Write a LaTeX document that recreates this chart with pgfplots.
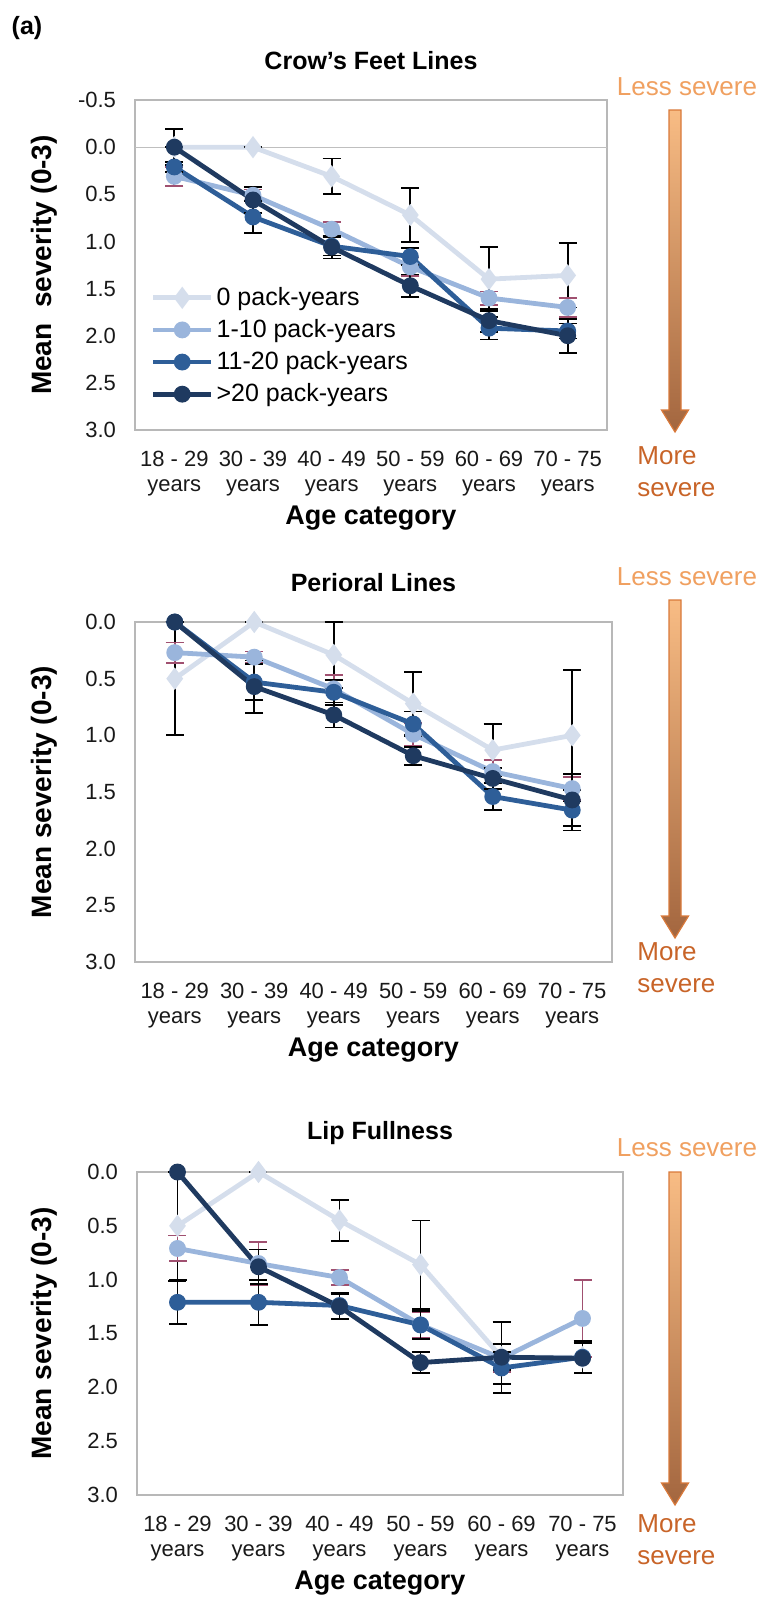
\documentclass[border=0pt]{standalone}
\usepackage{pgfplots}
\pgfplotsset{compat=1.18}
\usepackage{pgfplotstable}
\usepackage{fontspec}
\setmainfont{Liberation Sans}

\definecolor{cA}{HTML}{D5DEEC}
\definecolor{cB}{HTML}{9AB5DC}
\definecolor{cC}{HTML}{2E5E98}
\definecolor{cD}{HTML}{1F3A60}
\definecolor{errB}{HTML}{A05070}
\definecolor{lessor}{HTML}{F0A060}
\definecolor{moreor}{HTML}{C86428}
\definecolor{arrtop}{HTML}{F8BC84}
\definecolor{arrbot}{HTML}{A3663F}
\definecolor{arredge}{HTML}{D9793A}

% columns: age index, mean and error for 0 / 1-10 / 11-20 / >20 pack-years
\pgfplotstableread{
x  y0   e0   y1   e1   y2   e2   y3   e3
0  0.00 0.00 0.31 0.10 0.21 0.05 0.00 0.19
1  0.00 0.00 0.51 0.06 0.74 0.17 0.56 0.14
2  0.31 0.19 0.87 0.08 1.05 0.10 1.06 0.12
3  0.72 0.29 1.27 0.10 1.16 0.09 1.47 0.12
4  1.40 0.34 1.60 0.07 1.92 0.12 1.84 0.12
5  1.36 0.34 1.70 0.10 1.95 0.08 2.00 0.18
}\crowtab

\pgfplotstableread{
x  y0   e0   y1   e1   y2   e2   y3   e3
0  0.50 0.50 0.27 0.09 0.00 0.00 0.00 0.00
1  0.00 0.00 0.31 0.05 0.53 0.16 0.57 0.23
2  0.29 0.29 0.59 0.12 0.62 0.11 0.82 0.11
3  0.72 0.28 0.99 0.10 0.90 0.11 1.18 0.08
4  1.13 0.23 1.32 0.10 1.54 0.12 1.38 0.09
5  1.00 0.58 1.47 0.10 1.66 0.18 1.57 0.23
}\peritab

\pgfplotstableread{
x  y0   e0   y1   e1   y2   e2   y3   e3
0  0.50 0.50 0.71 0.12 1.21 0.20 0.00 0.00
1  0.00 0.00 0.85 0.20 1.21 0.21 0.88 0.16
2  0.45 0.19 0.98 0.07 1.24 0.12 1.25 0.12
3  0.86 0.41 1.42 0.12 1.42 0.13 1.77 0.10
4  1.72 0.33 1.73 0.13 1.82 0.15 1.72 0.12
5  1.72 0.00 1.36 0.36 1.72 0.15 1.73 0.14
}\liptab

\newcommand{\ticksz}{\fontsize{11}{12.5}\selectfont}

\pgfplotsset{
  panel/.style={
    scale only axis, clip=false,
    xmin=-0.5, xmax=5.5, ymax=3, y dir=reverse,
    axis line style={draw=black!28, line width=0.6pt},
    major tick length=0pt,
    xtick={0,1,2,3,4,5},
    xticklabels={{18 - 29\\years},{30 - 39\\years},{40 - 49\\years},{50 - 59\\years},{60 - 69\\years},{70 - 75\\years}},
    xticklabel style={align=center, font=\ticksz, text=black!90, yshift=-7pt},
    yticklabel style={font=\ticksz, text=black!90, xshift=-6pt},
    xlabel={Age category},
    xlabel style={at={(axis description cs:0.5,0)}, anchor=center, yshift=-44pt, font=\fontsize{13.5}{15}\selectfont\bfseries},
    title style={at={(axis description cs:0.5,1)}, anchor=center, yshift=13.5pt, font=\fontsize{12.5}{15}\selectfont\bfseries},
    ylabel style={font=\fontsize{14}{16}\selectfont\bfseries},
    legend image code/.code={
      \draw[#1] (0pt,0pt) -- (29pt,0pt);
      \draw[mark repeat=2, mark phase=2, #1] plot coordinates {(0pt,0pt) (14.5pt,0pt) (29pt,0pt)};
    },
  },
  errs/.style={error bars/.cd, y dir=both, y explicit,
    error bar style={line width=0.9pt, #1},
    error mark options={rotate=90, mark size=4.5pt, line width=0.9pt, #1}},
  sA/.style={cA, line width=2.4pt, mark=diamond*, mark size=3.6pt, mark options={solid}},
  sB/.style={cB, line width=2.4pt, mark=*, mark size=3pt, mark options={solid}},
  sC/.style={cC, line width=2.4pt, mark=*, mark size=3pt, mark options={solid}},
  sD/.style={cD, line width=2.4pt, mark=*, mark size=3pt, mark options={solid}},
}

\newcommand{\sevarrow}[3]{% x center, top, tip
  \shade[top color=arrtop, bottom color=arrbot, draw=arredge, line width=0.6pt]
    (#1-3pt,#2) -- (#1+3pt,#2) -- (#1+3pt,#3+11pt) -- (#1+6.75pt,#3+11pt) -- (#1,#3)
    -- (#1-6.75pt,#3+11pt) -- (#1-3pt,#3+11pt) -- cycle;
}

\begin{document}
\begin{tikzpicture}
\useasboundingbox (0,0) rectangle (382pt,-800.5pt);

\node[font=\fontsize{12.5}{15}\selectfont\bfseries] at (13.5pt,-14pt) {(a)};

% ---------- Crow's Feet Lines ----------
\begin{axis}[panel,
  at={(67.5pt,-215pt)}, anchor=south west, width=236pt, height=165pt,
  ymin=-0.5,
  ytick={-0.5,0,0.5,1,1.5,2,2.5,3},
  yticklabels={-0.5,0.0,0.5,1.0,1.5,2.0,2.5,3.0},
  title={Crow's Feet Lines},
  ylabel={Mean\ \ severity (0-3)},
  ylabel style={at={(axis description cs:-0.193,0.5)}, anchor=center},
  legend style={at={(axis description cs:0.02,0.455)}, anchor=north west,
    draw=none, fill=none, font=\fontsize{12.5}{14}\selectfont,
    row sep=2.5pt, nodes={inner sep=1.5pt}},
  legend cell align=left,
]
\draw[black!25, line width=0.6pt] (axis cs:-0.5,0) -- (axis cs:5.5,0);
\addplot[sA, errs=black] table[x=x, y=y0, y error=e0] {\crowtab};
\addplot[sB, errs=errB] table[x=x, y=y1, y error=e1] {\crowtab};
\addplot[sC, errs=black] table[x=x, y=y2, y error=e2] {\crowtab};
\addplot[sD, errs=black] table[x=x, y=y3, y error=e3] {\crowtab};
\legend{0 pack-years, 1-10 pack-years, 11-20 pack-years, >20 pack-years}
\end{axis}

% ---------- Perioral Lines ----------
\begin{axis}[panel,
  at={(67.5pt,-481pt)}, anchor=south west, width=238.5pt, height=170pt,
  ymin=0,
  ytick={0,0.5,1,1.5,2,2.5,3},
  yticklabels={0.0,0.5,1.0,1.5,2.0,2.5,3.0},
  title={Perioral Lines},
  ylabel={Mean severity (0-3)},
  ylabel style={at={(axis description cs:-0.191,0.5)}, anchor=center},
]
\addplot[sA, errs=black] table[x=x, y=y0, y error=e0] {\peritab};
\addplot[sB, errs=errB] table[x=x, y=y1, y error=e1] {\peritab};
\addplot[sC, errs=black] table[x=x, y=y2, y error=e2] {\peritab};
\addplot[sD, errs=black] table[x=x, y=y3, y error=e3] {\peritab};
\end{axis}

% ---------- Lip Fullness ----------
\begin{axis}[panel,
  at={(68.5pt,-747.5pt)}, anchor=south west, width=243pt, height=161.5pt,
  ymin=0,
  ytick={0,0.5,1,1.5,2,2.5,3},
  yticklabels={0.0,0.5,1.0,1.5,2.0,2.5,3.0},
  title={Lip Fullness},
  ylabel={Mean severity (0-3)},
  ylabel style={at={(axis description cs:-0.191,0.5)}, anchor=center},
]
\addplot[sA, errs=black] table[x=x, y=y0, y error=e0] {\liptab};
\addplot[sB, errs=errB] table[x=x, y=y1, y error=e1] {\liptab};
\addplot[sC, errs=black] table[x=x, y=y2, y error=e2] {\liptab};
\addplot[sD, errs=black] table[x=x, y=y3, y error=e3] {\liptab};
\end{axis}

% ---------- severity arrows ----------
\sevarrow{337.5pt}{-55pt}{-216pt}
\sevarrow{337.5pt}{-300pt}{-469pt}
\sevarrow{337.5pt}{-586pt}{-752.5pt}

\begin{scope}[font=\fontsize{13}{15}\selectfont]
\node[text=lessor] at (343.5pt,-43.5pt) {Less severe};
\node[text=lessor] at (343.5pt,-288.5pt) {Less severe};
\node[text=lessor] at (343.5pt,-574pt) {Less severe};
\node[text=moreor, align=left, anchor=west, inner sep=0pt] at (318.5pt,-236pt) {More\\[1pt]severe};
\node[text=moreor, align=left, anchor=west, inner sep=0pt] at (318.5pt,-484pt) {More\\[1pt]severe};
\node[text=moreor, align=left, anchor=west, inner sep=0pt] at (318.5pt,-770pt) {More\\[1pt]severe};
\end{scope}
\end{tikzpicture}
\end{document}
